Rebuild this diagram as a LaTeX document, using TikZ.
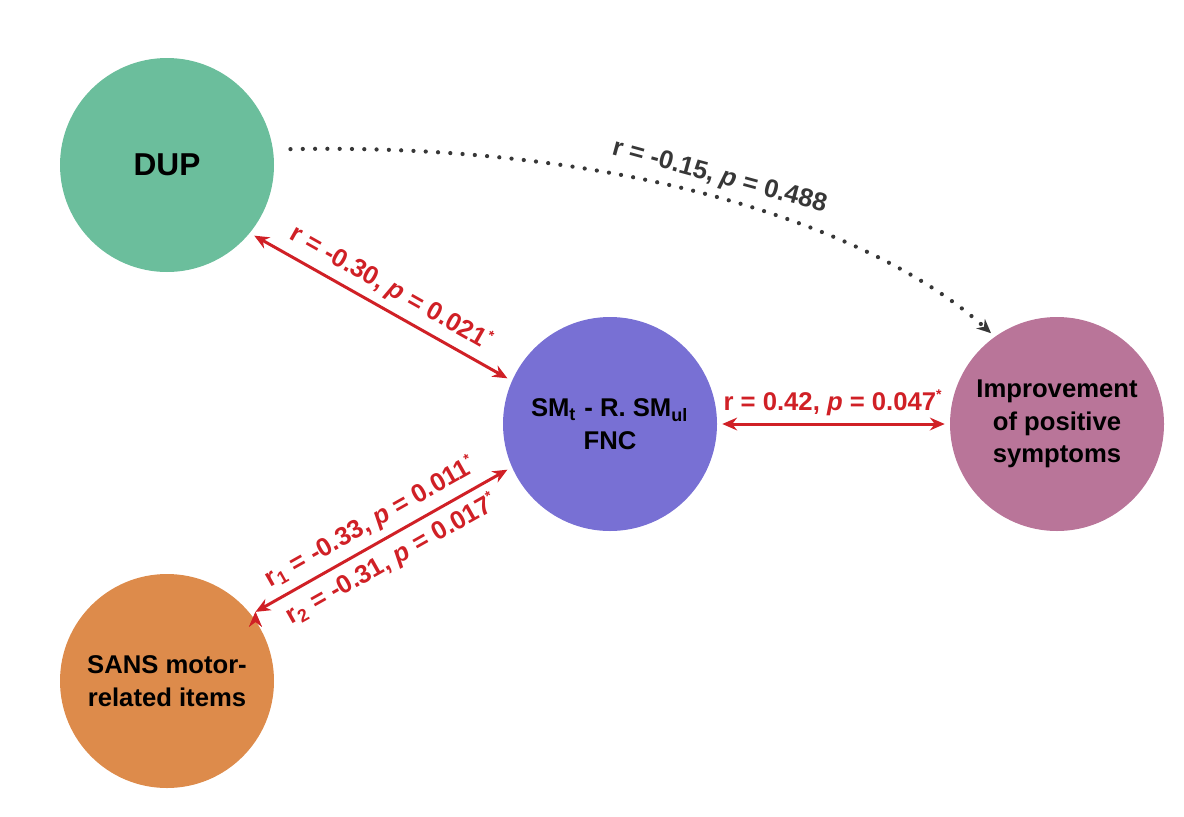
\documentclass[tikz,border=0pt]{standalone}
\usepackage{fontspec}
\setmainfont{Liberation Sans}
\usetikzlibrary{positioning, arrows, arrows.meta, calc}

\definecolor{dupgreen}{RGB}{107,190,156}
\definecolor{fncpurple}{RGB}{120,112,212}
\definecolor{imprpink}{RGB}{185,117,153}
\definecolor{sansorange}{RGB}{221,139,75}
\definecolor{sigred}{RGB}{208,32,38}
\definecolor{nsgray}{RGB}{55,55,55}

\newcommand{\sigstar}{\textsuperscript{\fontsize{4}{4}\selectfont *}}

\tikzset{
    circ/.style={circle, minimum size=2.14cm, inner sep=0pt, outer sep=1.5pt, align=center,
        font=\fontsize{7.3}{9.3}\selectfont\bfseries},
    corr/.style={<->, >={Stealth[length=4.2pt, width=3.6pt]}, draw=sigred, line width=0.85pt},
    lab/.style={text=sigred, inner sep=2pt, font=\fontsize{7.3}{8.8}\selectfont\bfseries},
    dots/.style={draw=nsgray, line width=1.2pt, line cap=round, dash pattern=on 0pt off 3.5pt,
        -{Stealth[length=4pt, width=3.6pt]}, shorten <=3.5pt}
}

\begin{document}
\begin{tikzpicture}[node distance=4.47cm]
        \useasboundingbox (0,0) rectangle (11.84,8.16);

        \node[circ, fill=fncpurple] (fnc) at (6.10,3.92) {SM\textsubscript{t} - R. SM\textsubscript{ul}\\FNC};
        \node[circ, fill=imprpink] (impr) [right of=fnc] {Improvement\\of positive\\symptoms};
        \node[circ, fill=dupgreen, font=\fontsize{9}{10}\selectfont\bfseries] (dup) at (1.67,6.51) {DUP};
        \node[circ, fill=sansorange] (sans) at (1.67,1.35) {SANS motor-\\related items};

        \path[corr]
        (dup.-39) edge node[lab, above, sloped] {r = -0.30, \textit{p} = 0.021\sigstar} (fnc.156)
        (sans.38) edge node[lab, above, sloped] {r\textsubscript{1} = -0.33, \textit{p} = 0.011\sigstar}
                       node[lab, below, sloped] {r\textsubscript{2} = -0.31, \textit{p} = 0.017\sigstar} (fnc.204)
        (fnc) edge node[lab, above] {r = 0.42, \textit{p} = 0.047\sigstar} (impr)
        ;

        \draw[dots] (dup.8) .. controls +(3.6,0.07) and +(-1.1,1.0) ..
            node[pos=0.48, above, sloped, lab, text=nsgray] {r = -0.15, \textit{p} = 0.488} (impr.126);
    \end{tikzpicture}
\end{document}
